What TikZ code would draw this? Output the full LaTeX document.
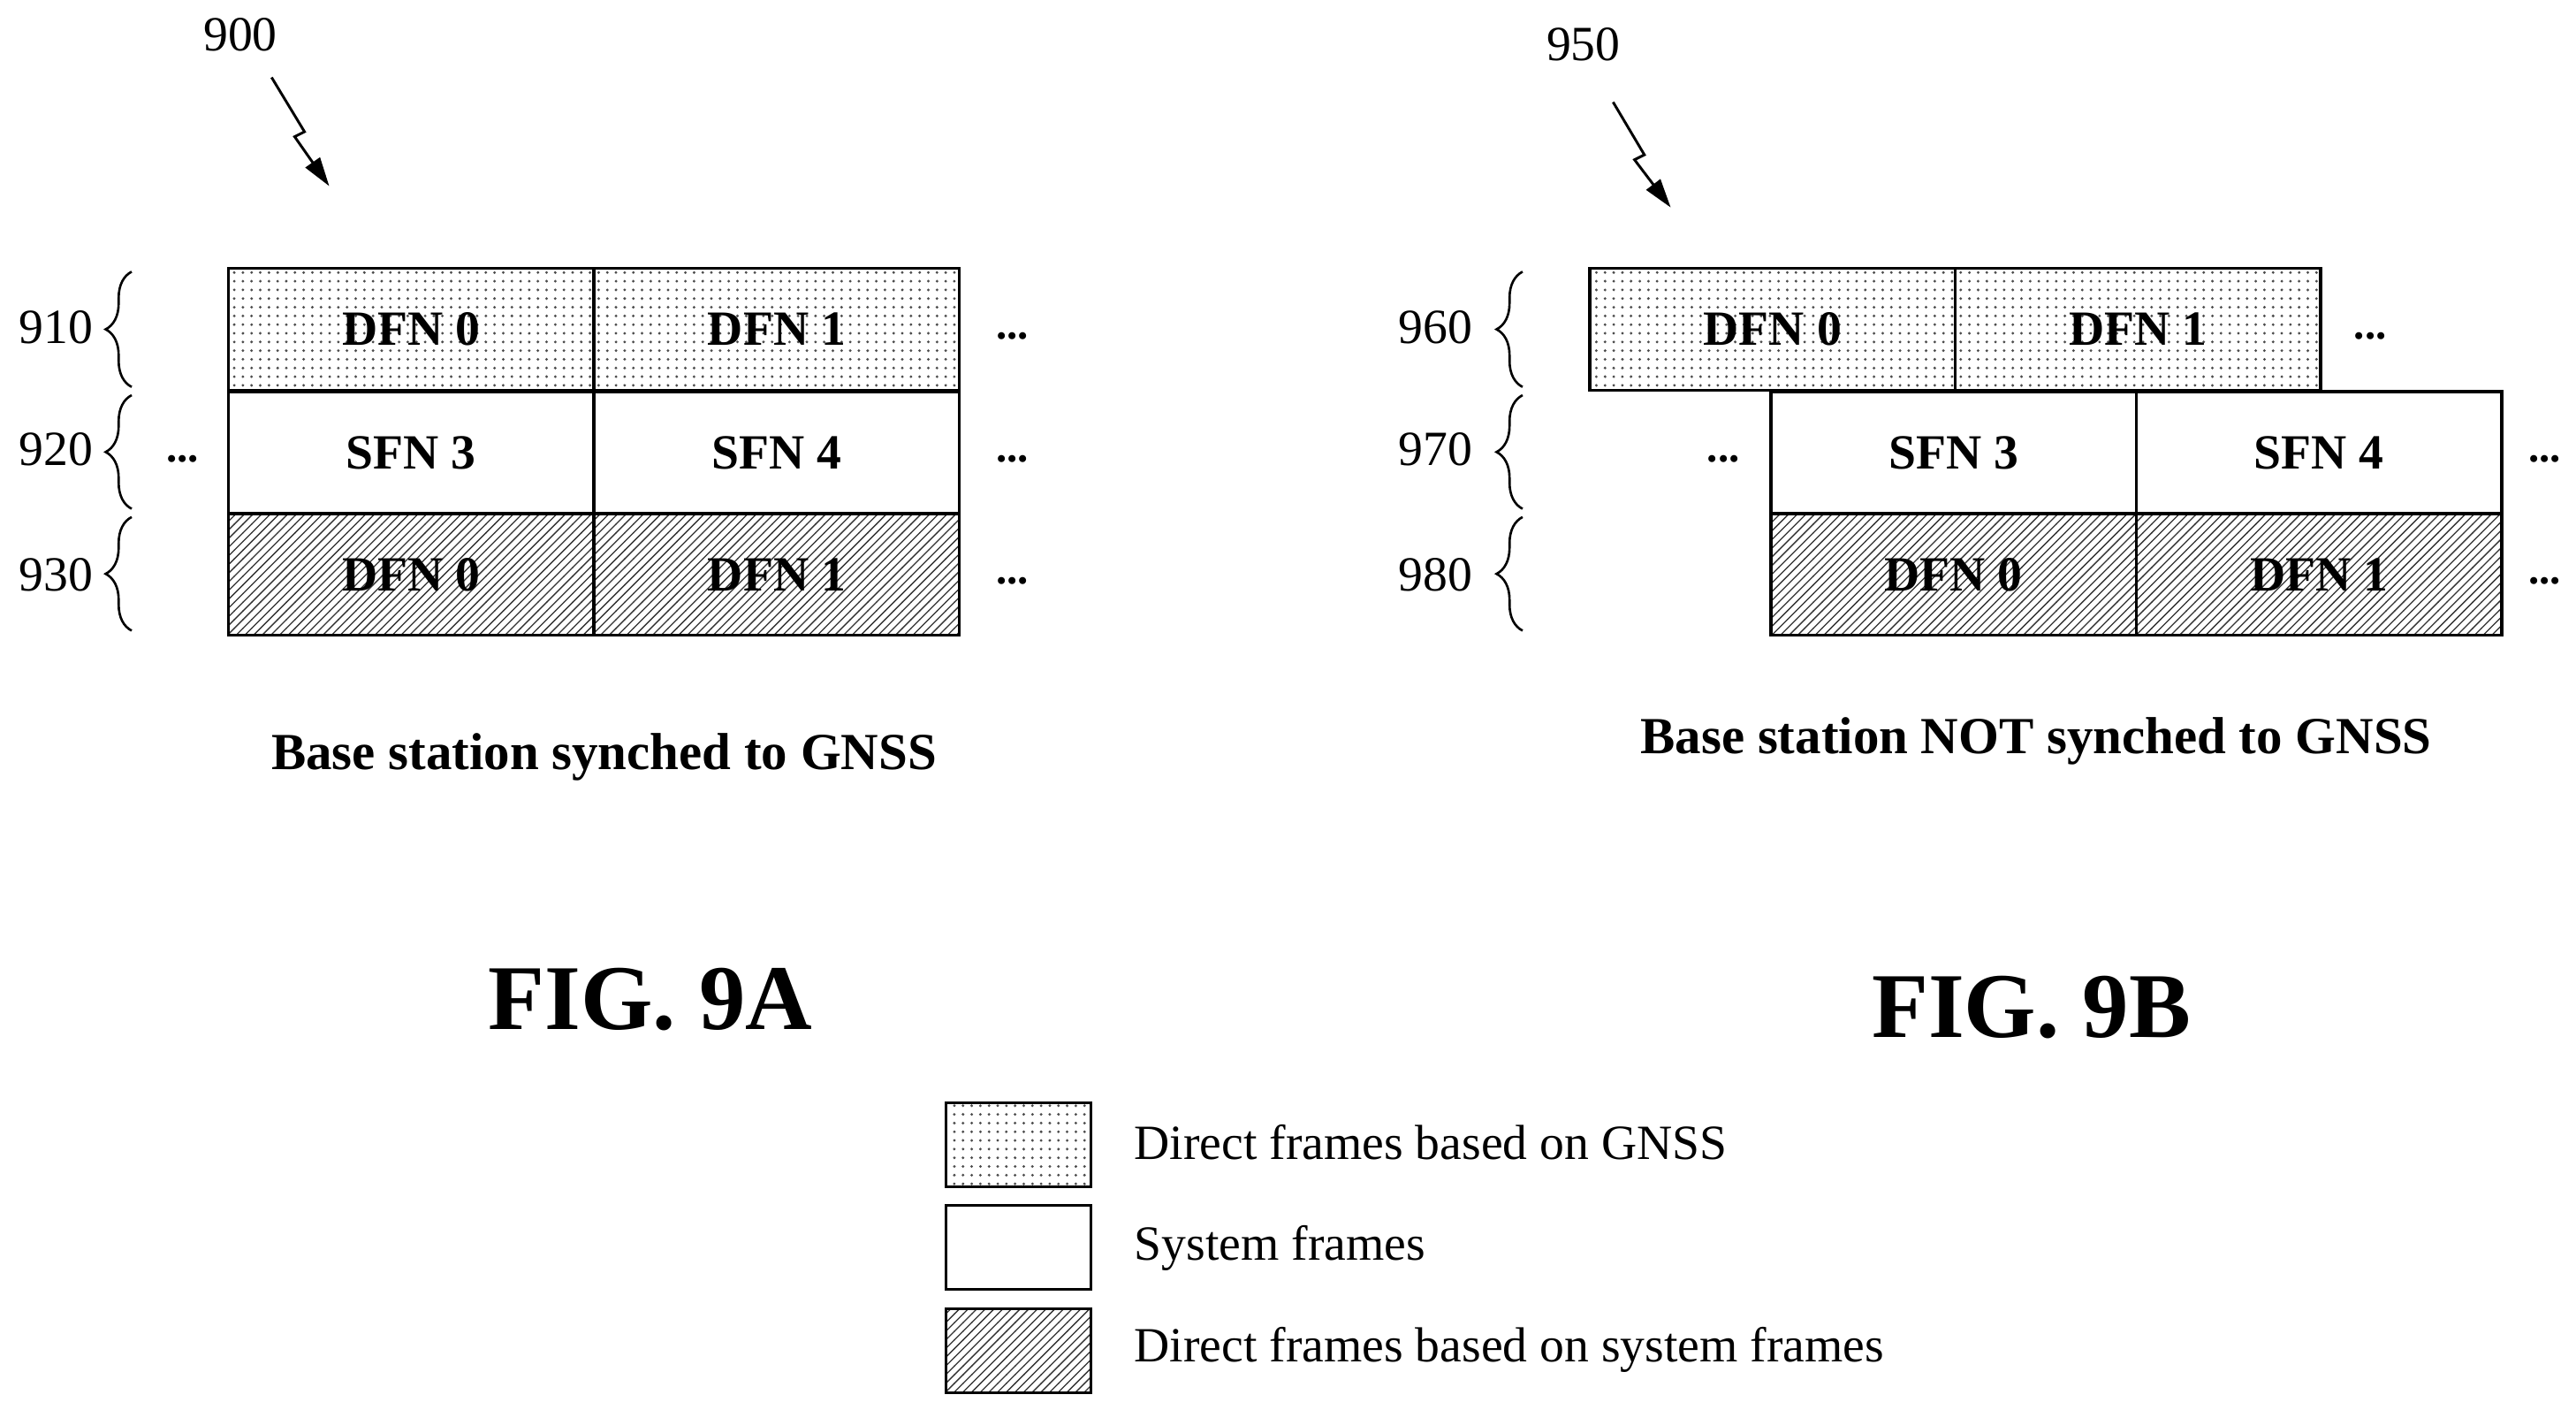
\documentclass[tikz,border=0pt]{standalone}
\usepackage{fontspec}
\setmainfont{Liberation Serif}
\usetikzlibrary{patterns,decorations.pathreplacing,arrows.meta}
\begin{document}
\begin{tikzpicture}[x=0.02cm,y=-0.02cm,
  cell/.style={draw,line width=1pt,anchor=north west,minimum height=1.48cm,inner sep=0pt,font=\fontsize{17}{17}\selectfont\bfseries},
  gnss/.style={cell,pattern=dots,pattern color=black!70},
  sys/.style={cell,fill=white},
  dsys/.style={cell,pattern=north east lines,pattern color=black!80},
  ref/.style={font=\fontsize{17}{17}\selectfont},
  ell/.style={font=\fontsize{15}{15}\selectfont\bfseries},
  captxt/.style={font=\fontsize{18}{18}\selectfont\bfseries},
  fig/.style={font=\fontsize{32}{32}\selectfont\bfseries},
  leg/.style={font=\fontsize{17}{17}\selectfont,anchor=west},
  br/.style={decorate,decoration={brace,amplitude=9pt},line width=0.8pt},
  zz/.style={line width=0.9pt,-{Triangle[length=10pt,width=6pt]}}]
\useasboundingbox (0,0) rectangle (1565,856);
% FIG 9A
\node[gnss,minimum width=4.44cm] (a1) at (138,162) {DFN 0};
\node[gnss,minimum width=4.44cm] (a2) at (360,162) {DFN 1};
\node[sys,minimum width=4.44cm] (a3) at (138,237) {SFN 3};
\node[sys,minimum width=4.44cm] (a4) at (360,237) {SFN 4};
\node[dsys,minimum width=4.44cm] (a5) at (138,311) {DFN 0};
\node[dsys,minimum width=4.44cm] (a6) at (360,311) {DFN 1};
\node[ell] (ad1) at (615,204) {...};
\node[ell] (ad2) at (615,279) {...};
\node[ell] (ad3) at (615,353) {...};
\node[ell] (ad4) at (111,279) {...};
\node[ref] (l910) at (34,199) {910};
\node[ref] (l920) at (34,273) {920};
\node[ref] (l930) at (34,349) {930};
\draw[br] (80,235) -- (80,165);
\draw[br] (80,309) -- (80,240);
\draw[br] (80,383) -- (80,314);
\node[ref] (l900) at (146,21) {900};
\coordinate (z1) at (165,47);
\coordinate (z2) at (185,80);
\coordinate (z3) at (179,83);
\coordinate (z4) at (200,113);
\draw[zz] (z1) -- (z2) -- (z3) -- (z4);
\node[captxt] (capA) at (367,460) {Base station synched to GNSS};
\node[fig] (figA) at (395,607) {FIG. 9A};
% FIG 9B
\node[gnss,minimum width=4.44cm] (b1) at (965,162) {DFN 0};
\node[gnss,minimum width=4.44cm] (b2) at (1187,162) {DFN 1};
\node[sys,minimum width=4.44cm] (b3) at (1075,237) {SFN 3};
\node[sys,minimum width=4.44cm] (b4) at (1297,237) {SFN 4};
\node[dsys,minimum width=4.44cm] (b5) at (1075,311) {DFN 0};
\node[dsys,minimum width=4.44cm] (b6) at (1297,311) {DFN 1};
\node[ell] (bd1) at (1440,204) {...};
\node[ell] (bd2) at (1546,279) {...};
\node[ell] (bd3) at (1546,353) {...};
\node[ell] (bd4) at (1047,279) {...};
\node[ref] (l960) at (872,199) {960};
\node[ref] (l970) at (872,273) {970};
\node[ref] (l980) at (872,349) {980};
\draw[br] (925,235) -- (925,165);
\draw[br] (925,309) -- (925,240);
\draw[br] (925,383) -- (925,314);
\node[ref] (l950) at (962,27) {950};
\coordinate (y1) at (980,62);
\coordinate (y2) at (999,94);
\coordinate (y3) at (993,97);
\coordinate (y4) at (1015,126);
\draw[zz] (y1) -- (y2) -- (y3) -- (y4);
\node[captxt] (capB) at (1237,450) {Base station NOT synched to GNSS};
\node[fig] (figB) at (1234,612) {FIG. 9B};
% Legend
\node[gnss,minimum width=1.76cm,minimum height=1.02cm] (k1) at (574,669) {};
\node[sys,minimum width=1.76cm,minimum height=1.02cm] (k2) at (574,731) {};
\node[dsys,minimum width=1.76cm,minimum height=1.02cm] (k3) at (574,794) {};
\node[leg] (t1) at (683,694) {Direct frames based on GNSS};
\node[leg] (t2) at (683,758) {System frames};
\node[leg] (t3) at (683,820) {Direct frames based on system frames};
\end{tikzpicture}
\end{document}
